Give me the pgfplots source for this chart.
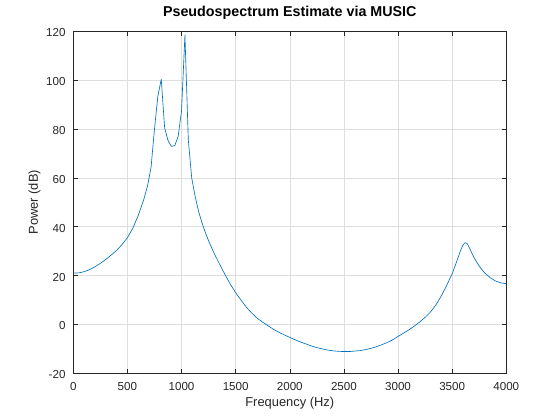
\documentclass[border=0pt]{standalone}
\usepackage{pgfplots}
\pgfplotsset{compat=1.18}
\usepackage{fontspec}
\setmainfont{Liberation Sans}
\definecolor{mblue}{rgb}{0,0.447,0.741}
\definecolor{axgray}{rgb}{0.15,0.15,0.15}
\definecolor{gridgray}{rgb}{0.87,0.87,0.87}
\begin{document}
\begin{tikzpicture}[x=1pt,y=1pt]
\path[use as bounding box] (0,0) rectangle (560,420);
\begin{axis}[
  at={(73.3pt,46.7pt)}, anchor=south west,
  scale only axis, width=433pt, height=342pt,
  xmin=0, xmax=4000, ymin=-20, ymax=120,
  xtick={0,500,...,4000}, ytick={-20,0,...,120},
  grid=major,
  major grid style={gridgray, line width=0.5pt},
  axis line style={axgray, line width=0.6pt},
  tick style={axgray, line width=0.5pt},
  tick align=inside, major tick length=4.5pt,
  xtick pos=both, ytick pos=both,
  /pgf/number format/assume math mode=true,
  /pgf/number format/1000 sep={},
  scaled ticks=false,
  tick label style={font=\fontsize{11.6}{13}\selectfont, text=axgray, inner sep=0pt},
  xticklabel style={anchor=base, yshift=-17.7pt},
  yticklabel style={anchor=east, xshift=-7.6pt, yshift=-1.5pt},
  label style={font=\fontsize{12.9}{15}\selectfont, text=axgray},
  xlabel={Frequency (Hz)},
  ylabel={Power (dB)},
  xlabel style={at={([yshift=-33.4pt]axis description cs:0.5,0)}, anchor=base, inner sep=0pt},
  ylabel style={at={([xshift=-35.3pt]axis description cs:0,0.5)}, anchor=base, inner sep=0pt},
  title={Pseudospectrum Estimate via MUSIC},
  title style={font=\fontsize{14.3}{16}\selectfont\bfseries, text=black, at={([yshift=8.6pt]axis description cs:0.5,1)}, anchor=base, inner sep=0pt},
]
\addplot[mblue, line width=0.65pt, line join=round] coordinates {
(0,21.0) (50,21.1) (100,21.6) (150,22.4) (200,23.6) (250,25.0) (300,26.6)
(350,28.4) (400,30.3) (450,32.7) (500,35.5) (550,39.4) (600,44.6) (650,51)
(687.5,57) (718.75,64.5) (750,80) (781.25,93.5) (812.5,100.4)
(843.75,80.5) (875,75.3) (906.25,72.9) (937.5,73.2) (968.75,77) (1000,87.5)
(1031.25,118.5) (1062.5,75.5) (1093.75,60) (1125,52.5) (1156.25,46.5)
(1187.5,41.8) (1218.75,37.8) (1250,34.2) (1300,29.2) (1350,24.8) (1400,20.5)
(1450,16.5) (1500,13) (1550,9.9) (1600,7) (1650,4.6) (1700,2.5) (1750,0.9)
(1800,-0.6) (1850,-2.0) (1900,-3.2) (1950,-4.3) (2000,-5.3) (2050,-6.3)
(2100,-7.2) (2150,-8.0) (2200,-8.8) (2250,-9.5) (2300,-10.0) (2350,-10.5)
(2400,-10.8) (2450,-11.0) (2500,-11.1) (2550,-11.1) (2600,-10.9) (2650,-10.7)
(2700,-10.3) (2750,-9.8) (2800,-9.1) (2850,-8.3) (2900,-7.4) (2950,-6.3)
(3000,-4.9) (3050,-3.6) (3100,-2.2) (3150,-0.7) (3200,1.0) (3250,2.9)
(3300,5.1) (3350,8.0) (3400,11.7) (3450,16) (3500,20.8) (3525,23.7)
(3550,26.8) (3575,30.0) (3600,32.6) (3620,33.5) (3640,33.0) (3660,31.3)
(3680,29.4) (3700,27.6) (3725,25.6) (3750,23.9) (3775,22.4) (3800,21.1)
(3850,19.2) (3900,17.8) (3950,17.0) (4000,16.7)
};
\end{axis}
\end{tikzpicture}
\end{document}
